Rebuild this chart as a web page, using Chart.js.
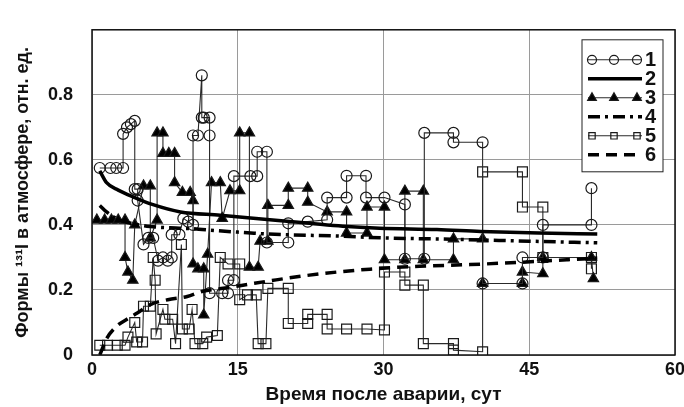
<!DOCTYPE html>
<html>
<head>
<meta charset="utf-8">
<script src="https://cdn.jsdelivr.net/npm/chart.js@4"></script>
<style>
  html, body { margin: 0; padding: 0; background: #fff; }
</style>
</head>
<body>
<canvas id="chart" width="684" height="407"></canvas>
<script>
// серии (x - сутки, y - отн. ед.)
const labels = ['1', '2', '3', '4', '5', '6'];

const s1x = [0.8, 1.9, 2.5, 3.2, 3.2, 3.6, 4.0, 4.4, 4.4, 4.7, 4.7, 5.3, 5.8, 6.3, 6.8, 7.3, 7.8, 8.2, 8.2, 9.0, 9.4, 9.9, 10.4, 10.4, 10.9, 11.3, 11.3, 11.5, 12.1, 12.1, 12.1, 13.4, 14.0, 14.0, 14.6, 14.6, 16.3, 17.0, 17.0, 18.0, 18.0, 20.2, 20.2, 22.2, 24.2, 24.2, 26.2, 26.2, 28.2, 28.2, 30.1, 32.2, 32.2, 34.2, 34.2, 37.2, 37.2, 40.2, 40.2, 44.3, 44.3, 46.4, 46.4, 51.4, 51.4];
const s1y = [0.575, 0.575, 0.575, 0.575, 0.68, 0.70, 0.71, 0.72, 0.51, 0.51, 0.475, 0.34, 0.36, 0.36, 0.29, 0.30, 0.29, 0.30, 0.37, 0.37, 0.42, 0.41, 0.40, 0.675, 0.675, 0.86, 0.73, 0.73, 0.73, 0.675, 0.19, 0.19, 0.19, 0.23, 0.23, 0.55, 0.55, 0.55, 0.625, 0.625, 0.346, 0.346, 0.405, 0.41, 0.416, 0.484, 0.484, 0.551, 0.551, 0.484, 0.484, 0.463, 0.296, 0.296, 0.683, 0.683, 0.654, 0.654, 0.22, 0.22, 0.30, 0.30, 0.40, 0.40, 0.513];

const s2x = [0.8, 1.5, 2.7, 4.4, 6.2, 9.1, 13.2, 18.3, 22.4, 25.8, 29.6, 35.5, 40, 46, 52];
const s2y = [0.566, 0.53, 0.507, 0.484, 0.463, 0.44, 0.43, 0.416, 0.405, 0.396, 0.39, 0.386, 0.38, 0.375, 0.372];

const s3x = [0.5, 1.3, 2.0, 2.7, 3.4, 3.4, 3.7, 4.2, 4.4, 5.3, 6.0, 6.0, 6.7, 6.7, 7.3, 7.3, 7.9, 8.5, 8.5, 9.3, 10.1, 10.4, 10.4, 10.9, 11.5, 11.5, 11.9, 12.3, 13.2, 13.4, 14.2, 15.2, 15.2, 16.2, 16.2, 17.1, 17.3, 18.1, 18.1, 20.2, 20.2, 22.2, 22.2, 24.2, 26.2, 26.2, 28.3, 28.3, 30.1, 30.1, 32.2, 32.2, 34.1, 34.1, 37.2, 37.2, 40.2, 40.2, 44.3, 44.3, 46.4, 46.4, 51.4, 51.6];
const s3y = [0.415, 0.415, 0.415, 0.415, 0.415, 0.30, 0.255, 0.23, 0.40, 0.52, 0.52, 0.36, 0.415, 0.683, 0.683, 0.62, 0.62, 0.62, 0.53, 0.50, 0.50, 0.475, 0.28, 0.265, 0.265, 0.123, 0.31, 0.53, 0.53, 0.42, 0.505, 0.505, 0.683, 0.683, 0.27, 0.27, 0.35, 0.35, 0.46, 0.46, 0.513, 0.513, 0.47, 0.44, 0.44, 0.375, 0.375, 0.455, 0.455, 0.293, 0.293, 0.504, 0.504, 0.293, 0.293, 0.357, 0.357, 0.22, 0.22, 0.255, 0.25, 0.30, 0.30, 0.235];

const s4x = [0.8, 1.5, 2.5, 4, 6, 9, 11, 13, 16, 18, 25, 30, 37, 45, 52];
const s4y = [0.46, 0.44, 0.42, 0.405, 0.395, 0.39, 0.387, 0.382, 0.376, 0.372, 0.366, 0.36, 0.356, 0.35, 0.345];

const s5x = [0.8, 1.6, 2.6, 3.4, 3.7, 4.4, 4.6, 5.2, 5.3, 6.0, 6.3, 6.5, 6.6, 7.3, 7.5, 8.3, 8.6, 9.2, 9.3, 10.0, 10.3, 10.6, 11.4, 11.8, 12.9, 13.2, 14.0, 15.2, 15.2, 16.0, 16.9, 17.1, 17.9, 18.1, 20.2, 20.2, 22.2, 22.2, 24.2, 24.2, 26.2, 28.3, 30.1, 30.1, 32.2, 32.2, 34.1, 34.1, 37.2, 37.2, 40.2, 40.2, 44.3, 44.3, 46.4, 46.4, 51.4, 51.4];
const s5y = [0.03, 0.03, 0.03, 0.03, 0.055, 0.10, 0.04, 0.04, 0.15, 0.15, 0.30, 0.23, 0.065, 0.14, 0.11, 0.11, 0.035, 0.34, 0.08, 0.08, 0.14, 0.035, 0.035, 0.055, 0.06, 0.30, 0.28, 0.28, 0.17, 0.185, 0.185, 0.035, 0.035, 0.205, 0.205, 0.097, 0.097, 0.125, 0.125, 0.08, 0.08, 0.08, 0.077, 0.255, 0.255, 0.215, 0.215, 0.035, 0.035, 0.015, 0.01, 0.563, 0.563, 0.455, 0.455, 0.30, 0.30, 0.265];

const s6x = [0.8, 1.5, 2.6, 3.6, 4.7, 6, 7.8, 9.8, 11.4, 13.5, 16.6, 18.3, 21.7, 25.2, 28.6, 33.7, 38.9, 44, 49, 52];
const s6y = [0.0, 0.05, 0.09, 0.11, 0.13, 0.155, 0.17, 0.18, 0.196, 0.205, 0.22, 0.228, 0.243, 0.255, 0.264, 0.273, 0.278, 0.285, 0.293, 0.298];

const xTicks = [0, 15, 30, 45, 60];
const yTicks = [0, 0.2, 0.4, 0.6, 0.8, 1.0];

const pts = (xs, ys) => xs.map((x, i) => ({ x: x, y: ys[i] }));

const FONT = 'Liberation Sans, Arial, sans-serif';
const ink = '#1a1a1a';

// рамка вокруг области графика
const frame = {
    id: 'frame',
    afterDatasetsDraw(chart) {
        const { ctx, chartArea: a } = chart;
        ctx.save();
        ctx.strokeStyle = '#111';
        ctx.lineWidth = 1.5;
        ctx.strokeRect(a.left, a.top, a.right - a.left, a.bottom - a.top);
        ctx.restore();
    }
};

// легенда в рамке справа сверху
const legendBox = {
    id: 'legendBox',
    afterDraw(chart) {
        const { ctx, chartArea: a } = chart;
        const right = a.right - 12, top = a.top + 10;
        const left = right - 81, rowH = 19;
        const bottom = top + 132;
        ctx.save();
        ctx.fillStyle = '#fff';
        ctx.fillRect(left, top, right - left, bottom - top);
        ctx.strokeStyle = '#222';
        ctx.lineWidth = 1;
        ctx.strokeRect(left, top, right - left, bottom - top);
        chart.data.datasets.forEach((ds, i) => {
            const y = top + 20 + i * rowH;
            ctx.strokeStyle = ds.borderColor;
            ctx.lineWidth = ds.borderWidth;
            ctx.setLineDash(ds.borderDash || []);
            ctx.beginPath();
            ctx.moveTo(left + 6, y);
            ctx.lineTo(left + 60, y);
            ctx.stroke();
            ctx.setLineDash([]);
            if (ds.pointRadius > 0) {
                ctx.fillStyle = ds.pointBackgroundColor;
                ctx.strokeStyle = ds.pointBorderColor;
                ctx.lineWidth = 1.2;
                [left + 10, left + 32, left + 55].forEach(px => {
                    Chart.helpers.drawPoint(ctx, {
                        pointStyle: ds.pointStyle,
                        radius: ds.pointStyle === 'triangle' ? 5 : 4.5,
                        rotation: 0,
                        borderWidth: 1.2
                    }, px, y);
                });
            }
            ctx.fillStyle = '#111';
            ctx.font = 'bold 20px ' + FONT;
            ctx.textAlign = 'left';
            ctx.textBaseline = 'middle';
            ctx.fillText(ds.label, left + 63, y + 1);
        });
        ctx.restore();
    }
};

const markerSet = (label, xs, ys, style, radius, fill) => ({
    label: label,
    data: pts(xs, ys),
    showLine: true,
    borderColor: '#2a2a2a',
    borderWidth: 1.1,
    pointStyle: style,
    pointRadius: radius,
    pointHoverRadius: radius,
    pointBorderColor: ink,
    pointBackgroundColor: fill,
    pointBorderWidth: 1.2,
    order: 2
});

const curveSet = (label, xs, ys, dash) => ({
    label: label,
    data: pts(xs, ys),
    showLine: true,
    borderColor: '#000',
    borderWidth: 3.5,
    borderDash: dash,
    pointRadius: 0,
    pointHoverRadius: 0,
    cubicInterpolationMode: 'monotone',
    order: 1
});

const ctx = document.getElementById('chart').getContext('2d');
const chart = new Chart(ctx, {
    type: 'scatter',
    data: {
        datasets: [
            markerSet(labels[0], s1x, s1y, 'circle', 5.5, 'rgba(255,255,255,0)'),
            curveSet(labels[1], s2x, s2y, []),
            markerSet(labels[2], s3x, s3y, 'triangle', 6, '#000'),
            curveSet(labels[3], s4x, s4y, [12, 5, 3, 5]),
            markerSet(labels[4], s5x, s5y, 'rect', 7, 'rgba(255,255,255,0)'),
            curveSet(labels[5], s6x, s6y, [11, 7])
        ]
    },
    options: {
        responsive: false,
        animation: false,
        layout: {
            padding: { top: 13, right: 9, left: 0, bottom: 0 }
        },
        scales: {
            x: {
                type: 'linear',
                min: xTicks[0],
                max: xTicks[xTicks.length - 1],
                afterBuildTicks: s => { s.ticks = xTicks.map(v => ({ value: v })); },
                afterFit: s => { s.height = 52; s.paddingLeft = 0; s.paddingRight = 0; },
                grid: { color: '#9a9a9a', lineWidth: 1, drawTicks: false },
                border: { display: false },
                ticks: {
                    padding: 4,
                    color: '#111',
                    font: { family: FONT, size: 18, weight: 'bold' },
                    maxRotation: 0
                },
                title: {
                    display: true,
                    text: 'Время после аварии, сут',
                    color: '#111',
                    font: { family: FONT, size: 19, weight: 'bold' },
                    padding: { top: 0, bottom: 1 }
                }
            },
            y: {
                type: 'linear',
                min: yTicks[0],
                max: yTicks[yTicks.length - 1],
                afterBuildTicks: s => { s.ticks = yTicks.map(v => ({ value: v })); },
                afterFit: s => { s.width = 92; },
                grid: { color: '#9a9a9a', lineWidth: 1, drawTicks: false },
                border: { display: false },
                ticks: {
                    padding: 19,
                    color: '#111',
                    font: { family: FONT, size: 18, weight: 'bold' },
                    callback: v => v >= 1 ? '' : (v === 0 ? '0' : v.toFixed(1))
                },
                title: {
                    display: true,
                    text: 'Формы ¹³¹I в атмосфере, отн. ед.',
                    color: '#111',
                    font: { family: FONT, size: 18, weight: 'bold' },
                    padding: { top: 12, bottom: 0 }
                }
            }
        },
        plugins: {
            legend: { display: false },
            tooltip: { enabled: false }
        }
    },
    plugins: [frame, legendBox]
});
</script>
</body>
</html>
